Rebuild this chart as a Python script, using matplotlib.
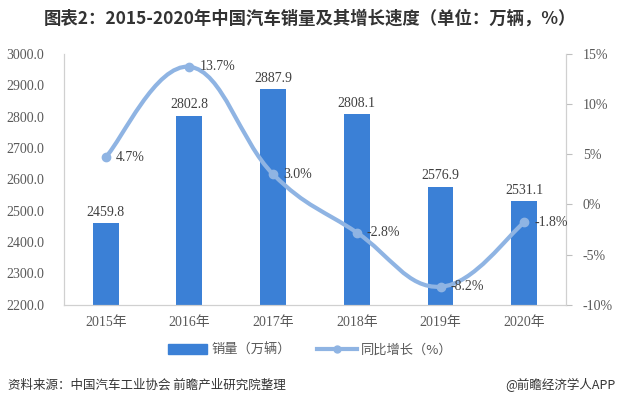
import numpy as np
import matplotlib.pyplot as plt
from matplotlib.path import Path
from matplotlib.patches import PathPatch, Rectangle
from matplotlib.lines import Line2D

years = ['2015年', '2016年', '2017年', '2018年', '2019年', '2020年']
sales = [2459.8, 2802.8, 2887.9, 2808.1, 2576.9, 2531.1]
growth = [4.7, 13.7, 3.0, -2.8, -8.2, -1.8]

serif = ['Liberation Serif', 'Noto Sans CJK SC']
cjk = ['Noto Sans CJK SC', 'DejaVu Sans']
plt.rcParams['font.family'] = serif

bar_c = '#3b80d6'
line_c = '#8fb4e3'
txt_c = '#404040'

fig = plt.figure(figsize=(6.2, 4.07), dpi=100)
ax = fig.add_axes([0.103, 0.251, 0.81, 0.617])
ax2 = ax.twinx()

x = np.arange(len(years))
ax.bar(x, sales, width=0.31, color=bar_c, zorder=2)
for xi, v in zip(x, sales):
    ax.text(xi, v + 14, f'{v:.1f}', ha='center', va='bottom', fontsize=10, color=txt_c)

ax.set_ylim(2200, 3000)
ax.set_yticks(np.arange(2200, 3001, 100))
ax.set_yticklabels([f'{v:.1f}' for v in np.arange(2200, 3001, 100)])
ax.set_xlim(-0.5, len(years) - 0.5)
ax.set_xticks(x)
ax.set_xticklabels(years)
ax.tick_params(axis='y', length=0, labelsize=10, labelcolor='#595959', pad=14)
ax.tick_params(axis='x', length=0, labelsize=10, labelcolor='#595959', pad=8)

# smooth line (bezier through the data points)
pts = np.column_stack([x, growth]).astype(float)
verts = [tuple(pts[0])]
codes = [Path.MOVETO]
k = 1 / 5
for i in range(len(pts) - 1):
    p0 = pts[i - 1] if i > 0 else pts[i]
    p1, p2 = pts[i], pts[i + 1]
    p3 = pts[i + 2] if i + 2 < len(pts) else pts[i + 1]
    c1 = p1 + (p2 - p0) * k
    c2 = p2 - (p3 - p1) * k
    verts += [tuple(c1), tuple(c2), tuple(p2)]
    codes += [Path.CURVE4] * 3
ax2.add_patch(PathPatch(Path(verts, codes), fill=False, edgecolor=line_c, lw=3, zorder=3))
ax2.plot(x, growth, 'o', color=line_c, ms=6, zorder=4)
for xi, v in zip(x, growth):
    ax2.text(xi + 0.12, v, f'{v:.1f}%', ha='left', va='center', fontsize=10, color=txt_c)

ax2.set_ylim(-10, 15)
ax2.set_yticks(np.arange(-10, 16, 5))
ax2.set_yticklabels([f'{v}%' for v in range(-10, 16, 5)])
ax2.tick_params(axis='y', length=4, color='#bfbfbf', labelsize=10, labelcolor='#595959', pad=8)

for a in (ax, ax2):
    a.spines['top'].set_visible(False)
    for s in ['left', 'right', 'bottom']:
        a.spines[s].set_color('#d0d0d0')

fig.text(0.5, 0.955, '图表2：2015-2020年中国汽车销量及其增长速度（单位：万辆，%）',
         ha='center', va='center', fontsize=12.5, fontweight='bold', family=cjk, color='#333333')

# legend
h1 = Rectangle((0, 0), 1, 1, color=bar_c)
h2 = Line2D([0], [0], color=line_c, lw=3, marker='o', ms=5)
fig.legend([h1, h2], ['销量（万辆）', '同比增长（%）'], loc='center', bbox_to_anchor=(0.5, 0.14),
           ncol=2, frameon=False, prop={'family': cjk, 'size': 9.5}, handlelength=3.0,
           handletextpad=0.3, columnspacing=2.0, labelcolor='#595959')

fig.text(0.013, 0.053, '资料来源：中国汽车工业协会 前瞻产业研究院整理', ha='left', va='center',
         fontsize=9, family=cjk, color='#333333')
fig.text(0.993, 0.053, '@前瞻经济学人APP', ha='right', va='center',
         fontsize=9, family=cjk, color='#333333')

fig.savefig('out.png', dpi=100, facecolor='white')
